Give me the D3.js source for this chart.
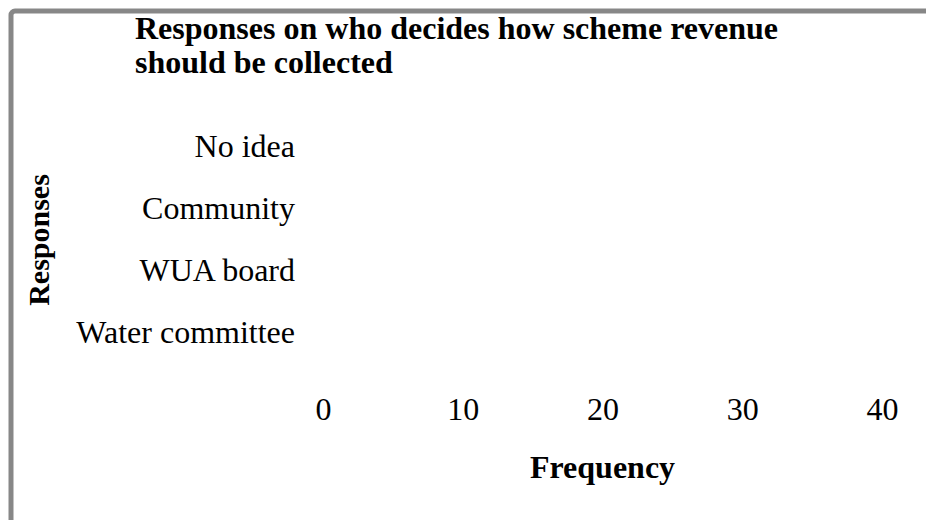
<!DOCTYPE html>
<html>
<head>
<meta charset="utf-8">
<script src="https://cdn.jsdelivr.net/npm/d3@7"></script>
<style>
  html, body { margin: 0; padding: 0; background: #fff; }
  svg { display: block; font-family: "Liberation Serif", "Times New Roman", serif; }
</style>
</head>
<body>
<svg id="chart" width="926" height="520"></svg>
<script>
// Response categories, listed bottom to top
const categories = ["Water committee", "WUA board", "Community", "No idea"];
// Frequency per category (bars are drawn without a visible fill)
const frequencies = [35, 10, 5, 3];
// Frequency axis ticks
const xTicks = [0, 10, 20, 30, 40];

const titleLines = ["Responses on who decides how scheme revenue", "should be collected"];
const xTitle = "Frequency";
const yTitle = "Responses";

const svg = d3.select("#chart");

// Outer frame (open to the right and bottom)
svg.append("rect")
  .attr("x", 11).attr("y", 11)
  .attr("width", 960).attr("height", 560)
  .attr("rx", 4)
  .attr("fill", "#fff")
  .attr("stroke", "#878787")
  .attr("stroke-width", 5);

const plot = { left: 323, right: 882, top: 116, bottom: 364 };

const x = d3.scaleLinear().domain([0, 40]).range([plot.left, plot.right]);
const y = d3.scaleBand()
  .domain(categories.slice().reverse())
  .range([plot.top, plot.bottom])
  .paddingInner(0.4).paddingOuter(0.2);

// Bars
svg.append("g").selectAll("rect")
  .data(categories.map((c, i) => ({ c, v: frequencies[i] })))
  .join("rect")
  .attr("x", x(0))
  .attr("y", d => y(d.c))
  .attr("width", d => x(d.v) - x(0))
  .attr("height", y.bandwidth())
  .attr("fill", "none")
  .attr("stroke", "none");

// X axis
const gx = svg.append("g")
  .attr("transform", `translate(0,${plot.bottom})`)
  .call(d3.axisBottom(x).tickValues(xTicks).tickSize(0).tickPadding(33));
gx.select(".domain").remove();
gx.selectAll("text")
  .attr("font-family", "Liberation Serif, Times New Roman, serif")
  .attr("font-size", 32)
  .attr("fill", "#000");

// Y axis
const gy = svg.append("g")
  .attr("transform", `translate(${plot.left},0)`)
  .call(d3.axisLeft(y).tickSize(0).tickPadding(28));
gy.select(".domain").remove();
gy.selectAll("text")
  .attr("font-family", "Liberation Serif, Times New Roman, serif")
  .attr("font-size", 32)
  .attr("fill", "#000");

// Title
svg.append("text")
  .attr("x", 135).attr("y", 39)
  .attr("font-size", 32).attr("font-weight", "bold").attr("fill", "#000")
  .selectAll("tspan")
  .data(titleLines)
  .join("tspan")
  .attr("x", 135)
  .attr("dy", (d, i) => i === 0 ? 0 : 34)
  .text(d => d);

// Axis titles
svg.append("text")
  .attr("x", (plot.left + plot.right) / 2).attr("y", 478)
  .attr("text-anchor", "middle")
  .attr("font-size", 32).attr("font-weight", "bold").attr("fill", "#000")
  .text(xTitle);

svg.append("text")
  .attr("transform", `translate(49,${(plot.top + plot.bottom) / 2}) rotate(-90)`)
  .attr("text-anchor", "middle")
  .attr("font-size", 30).attr("font-weight", "bold").attr("fill", "#000")
  .text(yTitle);
</script>
</body>
</html>
